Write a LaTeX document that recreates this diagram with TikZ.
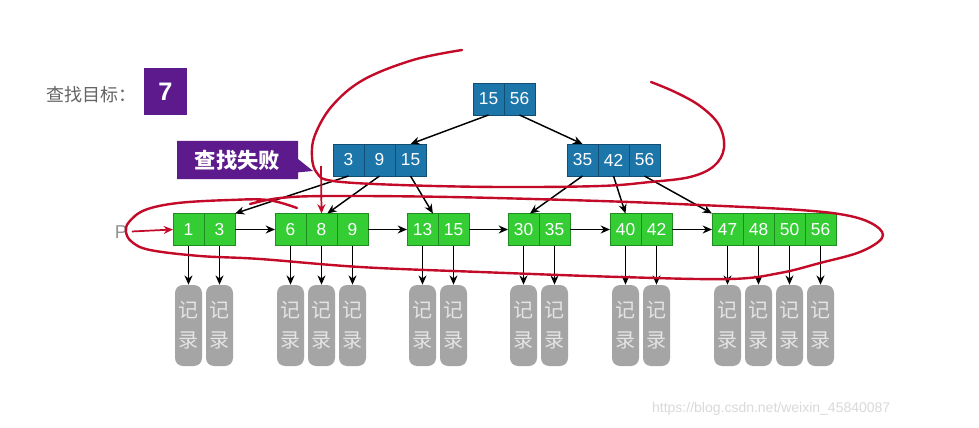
\documentclass[tikz,border=0pt]{standalone}
\usepackage{fontspec}
\setmainfont{Liberation Sans}
\newfontfamily\cjk{Noto Sans CJK SC}
\usetikzlibrary{arrows.meta,shapes.callouts}
\definecolor{bpblue}{RGB}{28,118,170}
\definecolor{bpblueline}{RGB}{18,78,115}
\definecolor{bpgreen}{RGB}{52,205,52}
\definecolor{bpgreenline}{RGB}{30,140,30}
\definecolor{bppurple}{RGB}{92,26,140}
\definecolor{bprec}{RGB}{165,165,165}
\definecolor{bpred}{RGB}{195,10,40}
\definecolor{bpgray}{RGB}{100,100,100}

\begin{document}
\begin{tikzpicture}[
  x=0.75pt,y=-0.75pt,
  key/.style={minimum width=23.25pt,minimum height=24pt,inner sep=0pt,outer sep=0pt,text=white,font=\fontsize{13}{15}\selectfont},
  inner/.style={key,fill=bpblue,draw=bpblueline,line width=0.6pt},
  leaf/.style={key,fill=bpgreen,draw=bpgreenline,line width=0.6pt},
  rec/.style={rounded corners=6pt,fill=bprec,minimum width=20.25pt,minimum height=60.75pt,inner sep=0pt,align=center,text=white!70!bprec,font=\cjk\fontsize{15}{22.5}\selectfont},
  arr/.style={-{Stealth[length=7pt,width=6pt]},line width=1.1pt},
  redarr/.style={-{Stealth[length=7pt,width=6pt]},line width=1.3pt,draw=bpred,fill=bpred},
  pen/.style={draw=bpred,line width=1.8pt,line cap=round}
]
\useasboundingbox[fill=white] (0,0) rectangle (979,428);

% search target
\node[anchor=west,text=bpgray,font=\cjk\fontsize{13.5}{15}\selectfont] (goal) at (42,95) {查找目标：};
\node[fill=bppurple,minimum width=32.25pt,minimum height=35.25pt,text=white,font=\bfseries\fontsize{19}{22}\selectfont] (target) at (165.5,91.5) {7};

% root and second level
\foreach \k [count=\i] in {15,56} { \node[inner] (root\i) at ({457.5+31*\i},99) {\k}; }
\foreach \k [count=\i] in {3,9,15} { \node[inner] (midA\i) at ({317.5+31*\i},160) {\k}; }
\foreach \k [count=\i] in {35,42,56} { \node[inner] (midB\i) at ({551.5+31*\i},160) {\k}; }

% leaves with their records
\foreach \n/\x/\ks in {A/173/{1,3},B/275/{6,8,9},C/407/{13,15},D/508/{30,35},E/610/{40,42},F/712/{47,48,50,56}} {
  \foreach \k [count=\i] in \ks {
    \node[leaf] (leaf\n\i) at ({\x-15.5+31*\i},229.5) {\k};
    \node[rec] (rec\n\i) at ({\x-15.5+31*\i},325.5) {记\\录};
    \draw[arr] (leaf\n\i) -- (rec\n\i);
  }
}
\foreach \a/\b in {A2/B1,B3/C1,C2/D1,D2/E1,E2/F1} { \draw[arr] (leaf\a.east) -- (leaf\b.west); }

% tree edges
\draw[arr] (root1.south) -- (midA3.north);
\draw[arr] (root2.south) -- (midB1.north);
\draw[arr] (midA1.south) -- (leafA2.north east);
\draw[arr] (midA2.south) -- (leafB2.70);
\draw[arr] (midA3.south) -- (leafC1.57);
\draw[arr] (midB1.south) -- (leafD1.68);
\draw[arr] (midB2.south) -- (leafE1.north);
\draw[arr] (midB3.south) -- (leafF1.north west);

% failed search
\node[rectangle callout,fill=bppurple,text=white,minimum width=90.75pt,minimum height=28.5pt,inner sep=0pt,
  callout absolute pointer={(313,171)},callout pointer width=10pt,font=\cjk\bfseries\fontsize{16}{18}\selectfont] (fail) at (237.5,160) {查找失败};

% pointer P
\node[text=bpgray!70,font=\fontsize{14}{16}\selectfont] (p) at (121,232) {P};
\draw[redarr] (p) -- (leafA1.west);

% hand marks
\coordinate (penstart) at (321,166);
\draw[redarr] (penstart) -- (leafB2.north);
\draw[pen] plot[smooth,tension=0.6] coordinates {(462,50) (413,60) (363,80) (332,106) (315,135) (312,157) (317,173) (333,181) (400,185) (500,187) (600,186) (650,182) (690,177) (714,166) (724,148) (719,125) (700,106) (675,92) (651,82)};
\draw[pen] plot[smooth,tension=0.6] coordinates {(297,208) (268,200) (230,200) (178,203) (145,210) (129,222) (126,232) (132,242) (150,250) (200,256) (260,259) (360,267) (480,272) (620,277) (730,279) (780,273) (820,263) (860,252) (882,238) (876,226) (850,216) (800,210) (700,205) (600,201) (450,197) (330,196) (280,198) (250,204)};

% watermark
\node[anchor=east,text=black!15,font=\fontsize{10.5}{12}\selectfont] (mark) at (895,409) {https://blog.csdn.net/weixin\_45840087};

\end{tikzpicture}
\end{document}
